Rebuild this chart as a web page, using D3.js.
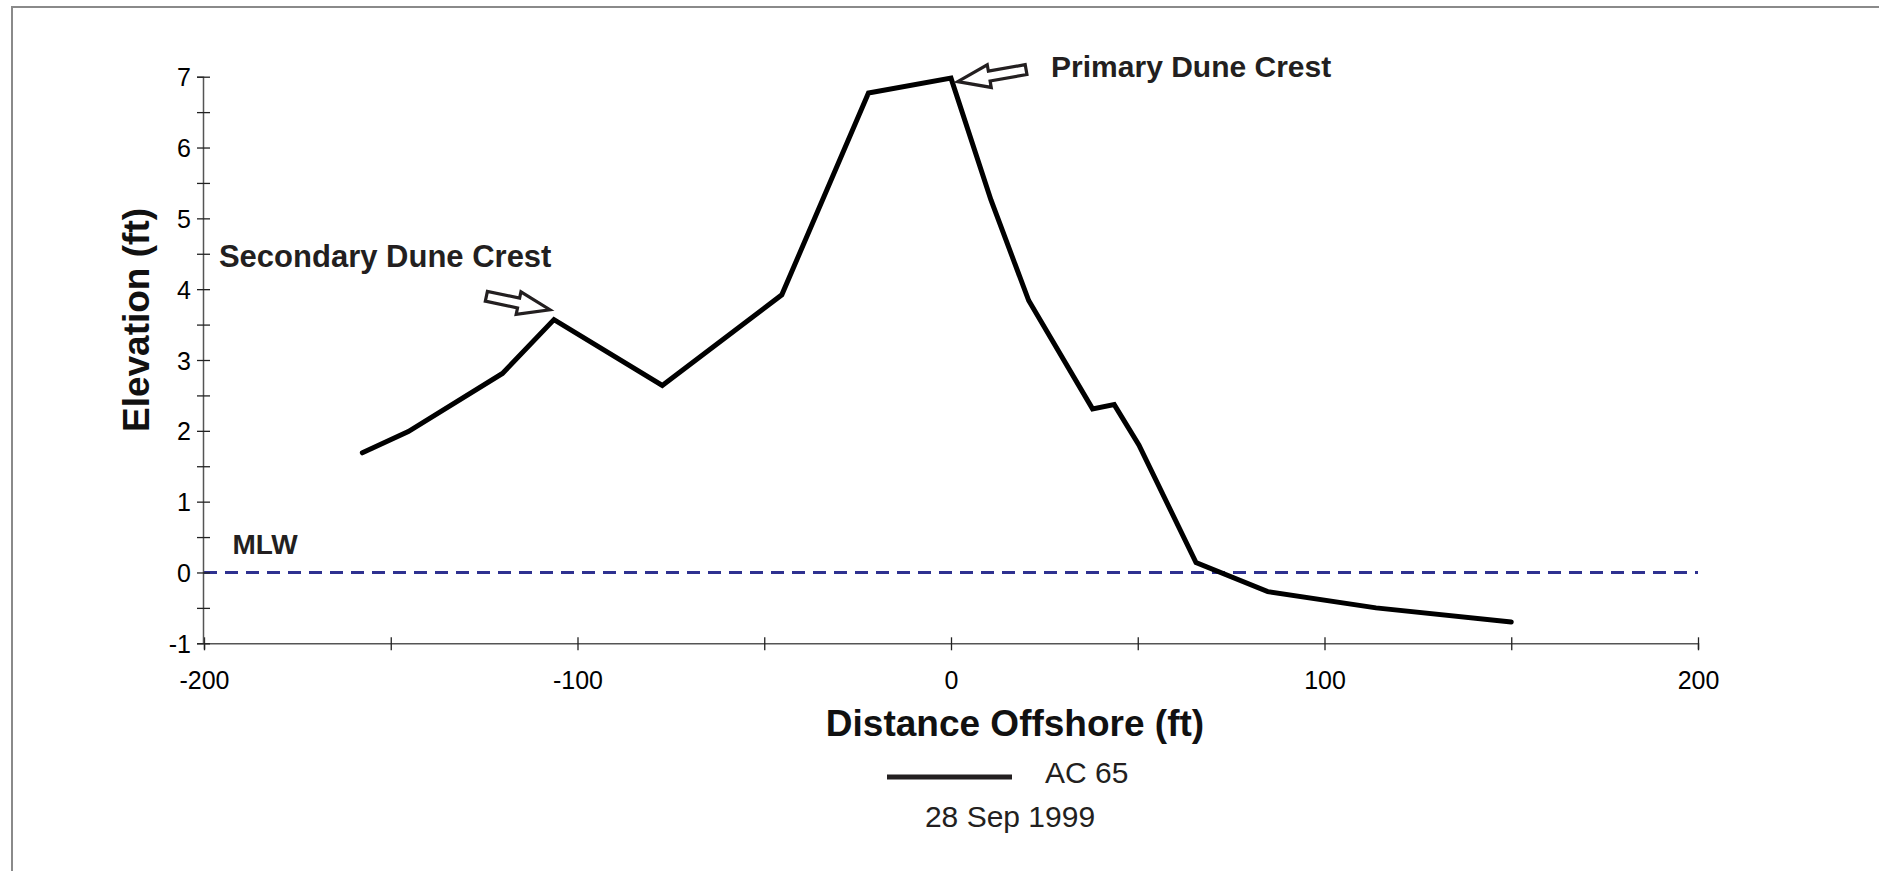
<!DOCTYPE html>
<html>
<head>
<meta charset="utf-8">
<script src="https://cdn.jsdelivr.net/npm/d3@7"></script>
<style>
  html, body { margin: 0; padding: 0; background: #fff; }
  svg { display: block; }
</style>
</head>
<body>
<svg id="chart" width="1879" height="871"></svg>
<script>
// ---- Data ----
const distance = [-157.6, -145.3, -120.1, -106.3, -77.3, -45.3, -22.1, 0, 10.7, 20.8, 37.9, 43.7, 50.3, 65.6, 84.8, 113.8, 150];
const elevation = [1.69, 1.99, 2.81, 3.57, 2.64, 3.92, 6.77, 6.98, 5.26, 3.84, 2.31, 2.37, 1.80, 0.14, -0.27, -0.50, -0.70];
const xTicks = [-200, -150, -100, -50, 0, 50, 100, 150, 200];
const xTickLabels = ["-200", "", "-100", "", "0", "", "100", "", "200"];
const yTicks = [-1, -0.5, 0, 0.5, 1, 1.5, 2, 2.5, 3, 3.5, 4, 4.5, 5, 5.5, 6, 6.5, 7];
const yTickLabels = ["-1", "", "0", "", "1", "", "2", "", "3", "", "4", "", "5", "", "6", "", "7"];
const mlwLevel = 0;
const seriesName = "AC 65";
const surveyDate = "28 Sep 1999";
const annotationLabels = ["Primary Dune Crest", "Secondary Dune Crest", "MLW"];
// annotation anchor points (data units): label start, arrow tail, arrow tip
const annotationText = [[26.8, 7.0], [-196, 4.32], [-192.4, 0.26]];
const arrowTail = [[20.1, 7.10], [-124.4, 3.90]];
const arrowTip = [[1.8, 6.93], [-107.4, 3.71]];

// ---- Chart ----
const svg = d3.select("#chart");
const x = d3.scaleLinear().domain([-200, 200]).range([204, 1698]);
const y = d3.scaleLinear().domain([-1, 7]).range([643.3, 76.7]);

// outer frame
svg.append("path")
  .attr("d", "M12,880 L12,7 L1890,7")
  .attr("fill", "none").attr("stroke", "#8a8a8a").attr("stroke-width", 2);

// MLW dashed line
svg.append("line")
  .attr("x1", x(-200)).attr("x2", x(200))
  .attr("y1", y(mlwLevel)).attr("y2", y(mlwLevel))
  .attr("stroke", "#2e3190").attr("stroke-width", 3)
  .attr("stroke-dasharray", "13,8");

// X axis
const xAxis = svg.append("g")
  .attr("transform", `translate(0,${y(-1)})`)
  .call(d3.axisBottom(x).tickValues(xTicks).tickSizeOuter(0).tickSize(6)
    .tickFormat((d, i) => xTickLabels[i]));
xAxis.select(".domain").attr("stroke", "#555").attr("stroke-width", 1.5);
xAxis.selectAll(".tick line").attr("y1", -6).attr("y2", 7).attr("stroke", "#222").attr("stroke-width", 1.3);
xAxis.selectAll(".tick text")
  .attr("y", 46).attr("dy", 0)
  .attr("font-family", "Liberation Sans, Arial, sans-serif")
  .attr("font-size", 25).attr("fill", "#000");

// Y axis
const yAxis = svg.append("g")
  .attr("transform", `translate(${x(-200) - 1},0)`)
  .call(d3.axisLeft(y).tickValues(yTicks).tickSizeOuter(0).tickSize(6)
    .tickFormat((d, i) => yTickLabels[i]));
yAxis.select(".domain").attr("stroke", "#555").attr("stroke-width", 1.5);
yAxis.selectAll(".tick line").attr("x1", -6).attr("x2", 7).attr("stroke", "#222").attr("stroke-width", 1.3);
yAxis.selectAll(".tick text")
  .attr("x", -12).attr("dy", "0.36em")
  .attr("font-family", "Liberation Sans, Arial, sans-serif")
  .attr("font-size", 25).attr("fill", "#000");

// Axis titles
svg.append("text")
  .attr("x", 1015).attr("y", 736)
  .attr("text-anchor", "middle")
  .attr("font-family", "Liberation Sans, Arial, sans-serif")
  .attr("font-weight", "bold").attr("font-size", 37).attr("fill", "#111")
  .text("Distance Offshore (ft)");
svg.append("text")
  .attr("transform", "translate(136,320) rotate(-90)")
  .attr("text-anchor", "middle").attr("dy", "0.36em")
  .attr("font-family", "Liberation Sans, Arial, sans-serif")
  .attr("font-weight", "bold").attr("font-size", 37).attr("fill", "#111")
  .text("Elevation (ft)");

// Profile line
const pts = distance.map((d, i) => [d, elevation[i]]);
svg.append("path")
  .datum(pts)
  .attr("fill", "none").attr("stroke", "#000").attr("stroke-width", 5)
  .attr("stroke-linecap", "round").attr("stroke-linejoin", "miter")
  .attr("d", d3.line().x(d => x(d[0])).y(d => y(d[1])));

// Annotation labels
const annotationSizes = [30, 31, 28];
annotationLabels.forEach((t, i) => {
  svg.append("text")
    .attr("x", x(annotationText[i][0])).attr("y", y(annotationText[i][1]))
    .attr("font-family", "Liberation Sans, Arial, sans-serif")
    .attr("font-weight", "bold").attr("font-size", annotationSizes[i])
    .attr("fill", "#231f20")
    .text(t);
});

// Hollow block arrows
function arrowPath(t, p) {
  const tx = x(t[0]), ty = y(t[1]), px = x(p[0]), py = y(p[1]);
  const dx = px - tx, dy = py - ty, L = Math.hypot(dx, dy);
  const ux = dx / L, uy = dy / L, nx = -uy, ny = ux;
  const sw = 5, hw = 11.5, hl = 32;
  const bx = px - ux * hl, by = py - uy * hl;
  const P = [
    [tx + nx * sw, ty + ny * sw],
    [bx + nx * sw, by + ny * sw],
    [bx + nx * hw, by + ny * hw],
    [px, py],
    [bx - nx * hw, by - ny * hw],
    [bx - nx * sw, by - ny * sw],
    [tx - nx * sw, ty - ny * sw]
  ];
  return "M" + P.map(q => q.join(",")).join("L") + "Z";
}
arrowTail.forEach((t, i) => {
  svg.append("path")
    .attr("d", arrowPath(t, arrowTip[i]))
    .attr("fill", "#fff").attr("stroke", "#231f20").attr("stroke-width", 3.2)
    .attr("stroke-linejoin", "miter");
});

// Legend
svg.append("line")
  .attr("x1", 887).attr("x2", 1012).attr("y1", 777).attr("y2", 777)
  .attr("stroke", "#231f20").attr("stroke-width", 5);
svg.append("text")
  .attr("x", 1045).attr("y", 783)
  .attr("font-family", "Liberation Sans, Arial, sans-serif")
  .attr("font-size", 30).attr("fill", "#231f20")
  .text(seriesName);
svg.append("text")
  .attr("x", 1010).attr("y", 827).attr("text-anchor", "middle")
  .attr("font-family", "Liberation Sans, Arial, sans-serif")
  .attr("font-size", 30).attr("fill", "#231f20")
  .text(surveyDate);
</script>
</body>
</html>
